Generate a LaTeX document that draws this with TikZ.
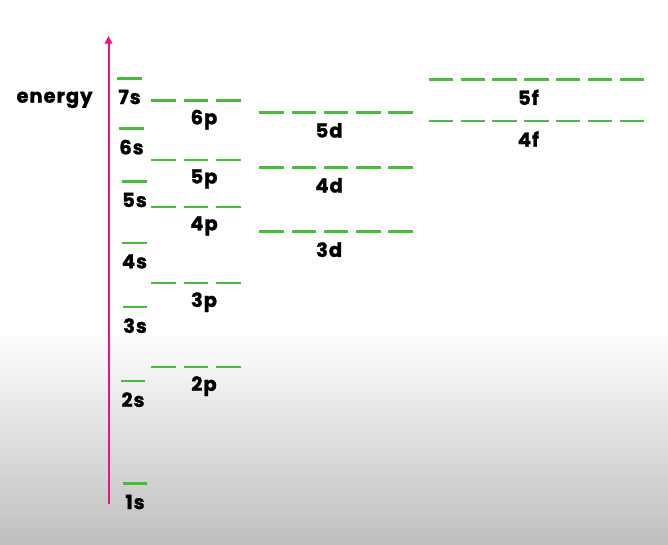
\documentclass[tikz,border=0pt]{standalone}
\usepackage{fontspec}
\setsansfont{Poppins}[LetterSpace=5,BoldFeatures={FakeBold=1.3}]
\usetikzlibrary{positioning,arrows.meta}
\definecolor{orbgreen}{RGB}{72,186,62}
\definecolor{axispink}{RGB}{226,24,126}
\definecolor{floorgray}{RGB}{191,191,191}

\begin{document}
\begin{tikzpicture}[x=1pt,y=-1pt]
                    \tikzstyle{every node}=[inner sep=0,outer sep=0,font=\sffamily\bfseries\fontsize{19.5}{20}\selectfont]
                    \tikzstyle{orb}=[rectangle,fill=orbgreen,draw=none,minimum width=24.5,minimum height=2.6]
                    \tikzstyle{lbl}=[text=black]
                    \tikzstyle{axis}=[draw=axispink,line width=2,-{Triangle[width=7.5,length=7.5]}]
                    {
                        % backdrop
                        \useasboundingbox (0,0) rectangle (668,544);
                        \fill[white] (0,0) rectangle (668,331);
                        \shade[top color=white,bottom color=floorgray] (0,330) rectangle (668,544);

                        % energy axis
                        \coordinate (axb) at (108.5,503.5);
                        \coordinate (axt) at (108.5,36);
                        \draw[axis] (axb) -- (axt);
                        \node[anchor=base] (energy) at (54.5,102.7) {energy};

                        % s levels
                        \foreach \n/\x/\y in {1/135/483.5,2/133/381,3/135/307,4/134.5/243,5/134.5/181.5,6/131.5/128.5,7/129.5/78.5}
                        {
                            \node[orb] (s\n) at (\x,\y) {};
                            \node[lbl,below=10pt of s\n] (ls\n) {\n s};
                        }

                        % p levels
                        \foreach \n/\y in {2/367,3/283,4/207,5/160,6/100.5}
                        {
                            \foreach \i in {1,2,3}
                                \node[orb] (p\n-\i) at ({163.5+(\i-1)*32.5},\y) {};
                            \node[lbl,below=8pt of p\n-2,xshift=8] (lp\n) {\n p};
                        }

                        % d levels
                        \foreach \n/\y in {3/231.5,4/167.3,5/112.3}
                        {
                            \foreach \i in {1,...,5}
                                \node[orb] (d\n-\i) at ({271.5+(\i-1)*32.3},\y) {};
                            \node[lbl,below=9.5pt of d\n-3,xshift=-7] (ld\n) {\n d};
                        }

                        % f levels
                        \foreach \n/\y in {4/121,5/79.3}
                        {
                            \foreach \i in {1,...,7}
                                \node[orb] (f\n-\i) at ({441+(\i-1)*31.8},\y) {};
                            \node[lbl,below=9pt of f\n-4,xshift=-8] (lf\n) {\n f};
                        }
                    }
\end{tikzpicture}
\end{document}
